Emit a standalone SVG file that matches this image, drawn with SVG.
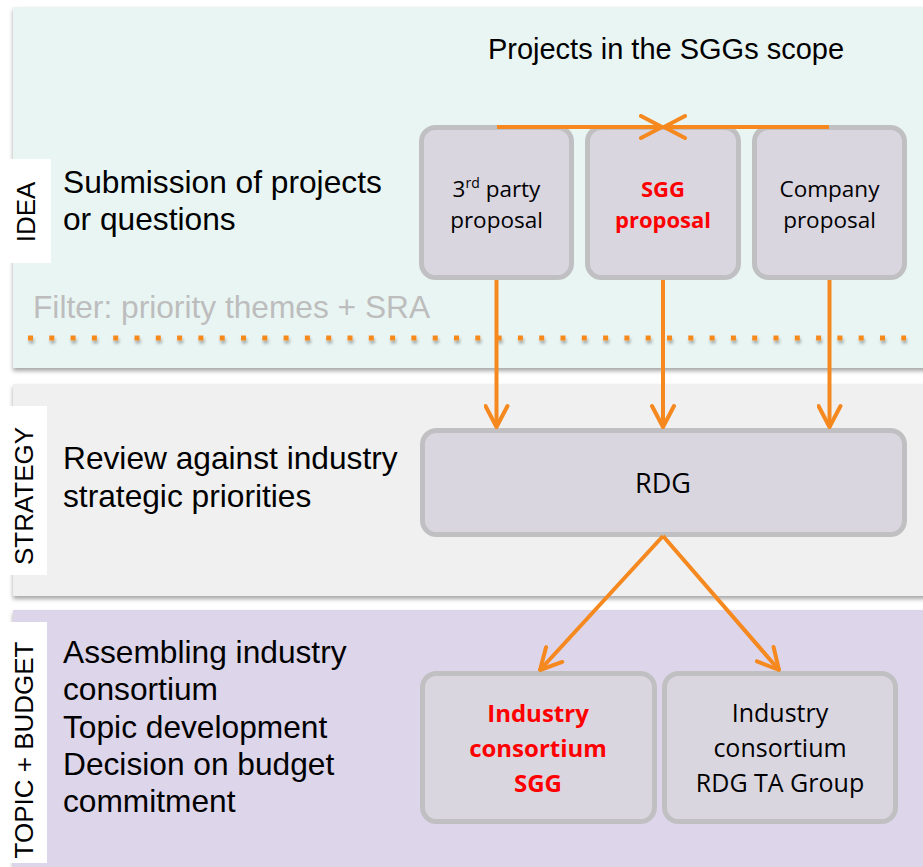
<svg xmlns="http://www.w3.org/2000/svg" width="923" height="867" viewBox="0 0 923 867">
<style>
.band{filter:url(#sh)}
.lbl{fill:#ffffff}
.side{font-family:"Liberation Sans",Arial,sans-serif;font-size:26px;fill:#000}
.left{font-family:"Liberation Sans",Arial,sans-serif;font-size:31.7px;fill:#000}
.filt{font-family:"Liberation Sans",Arial,sans-serif;font-size:31.7px;fill:#bdbdbd}
.title{font-family:"Liberation Sans",Arial,sans-serif;font-size:29px;fill:#000}
.box{fill:#dad6e0;stroke:#c0c0c2;stroke-width:5}
.nt{font-family:"Open Sans","Noto Sans",sans-serif;fill:#000;text-anchor:middle}
.red{fill:#ff0000;font-weight:bold}
.con{stroke:#f5891f;stroke-width:4;fill:none}
</style>
<defs>
<filter id="sh" x="-5%" y="-5%" width="110%" height="115%">
<feDropShadow dx="0" dy="3" stdDeviation="2" flood-color="#000" flood-opacity="0.35"/>
</filter>
<filter id="dsh" filterUnits="userSpaceOnUse" x="0" y="325" width="923" height="30">
<feDropShadow dx="1" dy="3" stdDeviation="1.5" flood-color="#000" flood-opacity="0.3"/>
</filter>
<marker id="ah" viewBox="0 0 26 26" markerWidth="26" markerHeight="26" refX="24" refY="13" orient="auto" markerUnits="userSpaceOnUse">
<path d="M3,2 L24,13 L3,24" fill="none" stroke="#f5891f" stroke-width="4" stroke-linecap="round" stroke-linejoin="round"/>
</marker>
</defs>
<rect width="923" height="867" fill="#ffffff"/>

<g id="band-idea">
<rect class="band" x="13" y="7" width="915" height="361" fill="#e9f5f3"/>
<rect class="lbl" x="0" y="159" width="51" height="104"/>
<text class="side" text-anchor="middle" transform="translate(35,212) rotate(-90)">IDEA</text>
<text class="left" x="63" y="193">Submission of projects</text>
<text class="left" x="63" y="230">or questions</text>
<text class="title" x="666" y="59" text-anchor="middle">Projects in the SGGs scope</text>
<text class="filt" x="33" y="318">Filter: priority themes + SRA</text>
<line x1="28" y1="338" x2="906" y2="338" stroke="#f5891f" stroke-width="5" stroke-dasharray="5 16.3" filter="url(#dsh)"/>
</g>

<g id="band-strategy">
<rect class="band" x="13" y="384" width="915" height="212" fill="#f0f0f0"/>
<rect class="lbl" x="0" y="406" width="47" height="169"/>
<text class="side" text-anchor="middle" transform="translate(33,496) rotate(-90)">STRATEGY</text>
<text class="left" x="63" y="469">Review against industry</text>
<text class="left" x="63" y="507">strategic priorities</text>
</g>

<g id="band-topic">
<rect class="band" x="13" y="610" width="915" height="270" fill="#ddd5e9"/>
<rect class="lbl" x="0" y="622" width="47" height="241"/>
<text class="side" text-anchor="middle" transform="translate(33,750) rotate(-90)">TOPIC + BUDGET</text>
<text class="left" x="63" y="663">Assembling industry</text>
<text class="left" x="63" y="700">consortium</text>
<text class="left" x="63" y="738">Topic development</text>
<text class="left" x="63" y="775">Decision on budget</text>
<text class="left" x="63" y="812">commitment</text>
</g>

<g id="node-3rd-party">
<rect class="box" x="421.5" y="127.5" width="150" height="150" rx="14"/>
<text class="nt" font-size="22.5" x="496.5" y="197">3<tspan font-size="14" dy="-9">rd</tspan><tspan dy="9"> party</tspan></text>
<text class="nt" font-size="22.5" x="496.5" y="228">proposal</text>
</g>

<g id="node-sgg-proposal">
<rect class="box" x="587.5" y="127.5" width="151" height="150" rx="14"/>
<text class="nt red" font-size="22" x="663" y="197">SGG</text>
<text class="nt red" font-size="22" x="663" y="228">proposal</text>
</g>

<g id="node-company">
<rect class="box" x="754.5" y="127.5" width="150" height="150" rx="14"/>
<text class="nt" font-size="22.5" x="829.5" y="197">Company</text>
<text class="nt" font-size="22.5" x="829.5" y="228">proposal</text>
</g>

<g id="node-rdg">
<rect class="box" x="422.5" y="430.5" width="482" height="104" rx="14"/>
<text class="nt" font-size="27" x="663" y="493">RDG</text>
</g>

<g id="node-industry-sgg">
<rect class="box" x="422.5" y="673.5" width="232" height="148" rx="14"/>
<text class="nt red" font-size="24" x="538" y="722">Industry</text>
<text class="nt red" font-size="24" x="538" y="757">consortium</text>
<text class="nt red" font-size="24" x="538" y="792">SGG</text>
</g>

<g id="node-industry-rdg">
<rect class="box" x="664.5" y="673.5" width="231" height="148" rx="14"/>
<text class="nt" font-size="25" x="780" y="722">Industry</text>
<text class="nt" font-size="25" x="780" y="757">consortium</text>
<text class="nt" font-size="25" x="780" y="792">RDG TA Group</text>
</g>

<g id="connectors">
<line class="con" x1="497" y1="127" x2="662" y2="127" marker-end="url(#ah)"/>
<line class="con" x1="829" y1="127" x2="664" y2="127" marker-end="url(#ah)"/>
<line class="con" x1="496.5" y1="280" x2="496.5" y2="427" marker-end="url(#ah)"/>
<line class="con" x1="663" y1="280" x2="663" y2="427" marker-end="url(#ah)"/>
<line class="con" x1="829.5" y1="280" x2="829.5" y2="427" marker-end="url(#ah)"/>
<line class="con" x1="663" y1="536" x2="540" y2="670" marker-end="url(#ah)"/>
<line class="con" x1="663" y1="536" x2="779" y2="670" marker-end="url(#ah)"/>
</g>
</svg>
